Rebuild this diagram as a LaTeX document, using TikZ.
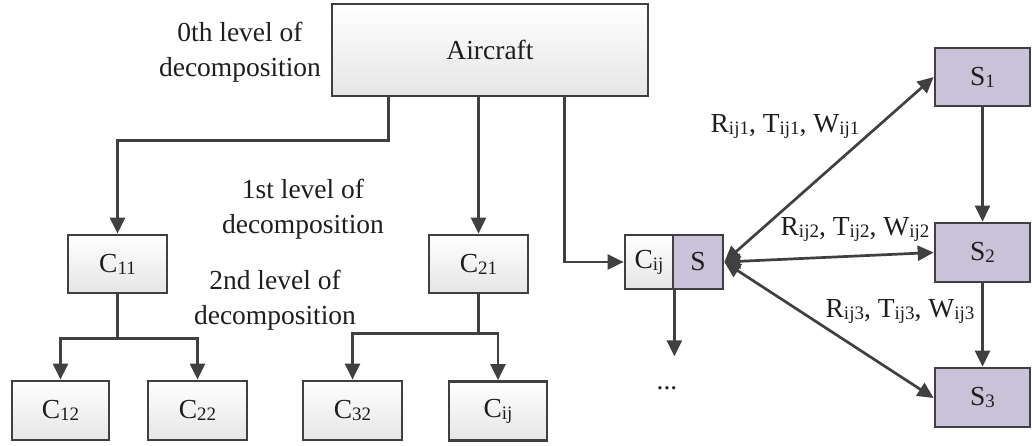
\documentclass[tikz,border=0pt]{standalone}
\usepackage{fontspec}
\setmainfont{Liberation Serif}
\usetikzlibrary{arrows.meta}
\definecolor{edge}{HTML}{404040}
\definecolor{lav}{HTML}{C9C2D9}
\definecolor{txt}{HTML}{1E1E1E}
\newcommand\sbs[1]{\raisebox{-2pt}{\fontsize{19}{19}\selectfont #1}}
\tikzset{
  base/.style={font=\fontsize{27.5}{35}\selectfont, text=txt},
  box/.style={base, draw=edge, line width=2.7pt, top color=white, bottom color=black!10, inner sep=0pt},
  sbox/.style={base, draw=edge, line width=2.7pt, fill=lav, inner sep=0pt},
  arr/.style={draw=edge, line width=2.7pt, -{Triangle[length=16pt,width=15pt]}},
  darr/.style={draw=edge, line width=2.7pt, {Triangle[length=16pt,width=15pt]}-{Triangle[length=16pt,width=15pt]}},
  lbl/.style={base, align=center, inner sep=0pt},
}
\begin{document}
\begin{tikzpicture}[x=1pt,y=-1pt]
\useasboundingbox (0,0) rectangle (1032,446);
% boxes
\node[box, minimum width=316pt, minimum height=92pt] (air) at (490,50) {Aircraft};
\node[box, minimum width=99pt, minimum height=58pt] (c11) at (117.5,264) {C\sbs{11}};
\node[box, minimum width=99pt, minimum height=58pt] (c21) at (478.5,264) {C\sbs{21}};
\node[box, minimum width=97pt, minimum height=59pt] (c12) at (60.5,410.5) {C\sbs{12}};
\node[box, minimum width=99pt, minimum height=59pt] (c22) at (197.5,410.5) {C\sbs{22}};
\node[box, minimum width=99pt, minimum height=59pt] (c32) at (352.5,410.5) {C\sbs{32}};
\node[box, minimum width=98pt, minimum height=59pt] (cijb) at (498,411) {C\sbs{ij}};
\node[box, minimum width=48pt, minimum height=54pt] (cij) at (649,262) {C\sbs{ij}};
\node[sbox, minimum width=50pt, minimum height=54pt] (s) at (698,262) {S};
\node[sbox, minimum width=95pt, minimum height=58pt] (s1) at (982.5,77) {S\sbs{1}};
\node[sbox, minimum width=95pt, minimum height=59pt] (s2) at (982.5,252.5) {S\sbs{2}};
\node[sbox, minimum width=95pt, minimum height=59pt] (s3) at (982.5,397.5) {S\sbs{3}};
% texts
\node[lbl] (t0) at (240,52) {0th level of\\decomposition};
\node[lbl] (t1) at (303,209) {1st level of\\decomposition};
\node[lbl] (t2) at (275,300) {2nd level of\\decomposition};
\node[base, inner sep=0pt] (dots) at (667,388) {...};
% connectors
\draw[arr] ([xshift=58pt]air.south west) -- ++(0,43) -| (c11.north);
\draw[arr] (air.south -| c21.north) -- (c21.north);
\draw[arr] ([xshift=234pt]air.south west) |- (cij.west);
\draw[arr] (c11.south) -- ++(0,44) -| (c12.north);
\draw[arr] (c11.south) -- ++(0,44) -| (c22.north);
\draw[arr] (c21.south) -- ++(0,39) -| (c32.north);
\draw[arr] (c21.south) -- ++(0,39) -| (cijb.north);
\coordinate (dn) at ([yshift=-66pt]cij.south east);
\draw[arr] (cij.south east) -- (dn);
\draw[darr] (s.east) -- (s1.west);
\draw[darr] (s.east) -- (s2.west);
\draw[darr] (s.east) -- ([yshift=-0.5pt]s3.west);
\draw[arr] (s1.south) -- (s2.north);
\draw[arr] (s2.south) -- (s3.north);
\node[base, inner sep=0pt] (l1) at (785,127) {R\sbs{ij1}, T\sbs{ij1}, W\sbs{ij1}};
\node[base, inner sep=0pt] (l2) at (855,230) {R\sbs{ij2}, T\sbs{ij2}, W\sbs{ij2}};
\node[base, inner sep=0pt] (l3) at (900,312) {R\sbs{ij3}, T\sbs{ij3}, W\sbs{ij3}};
\end{tikzpicture}
\end{document}
